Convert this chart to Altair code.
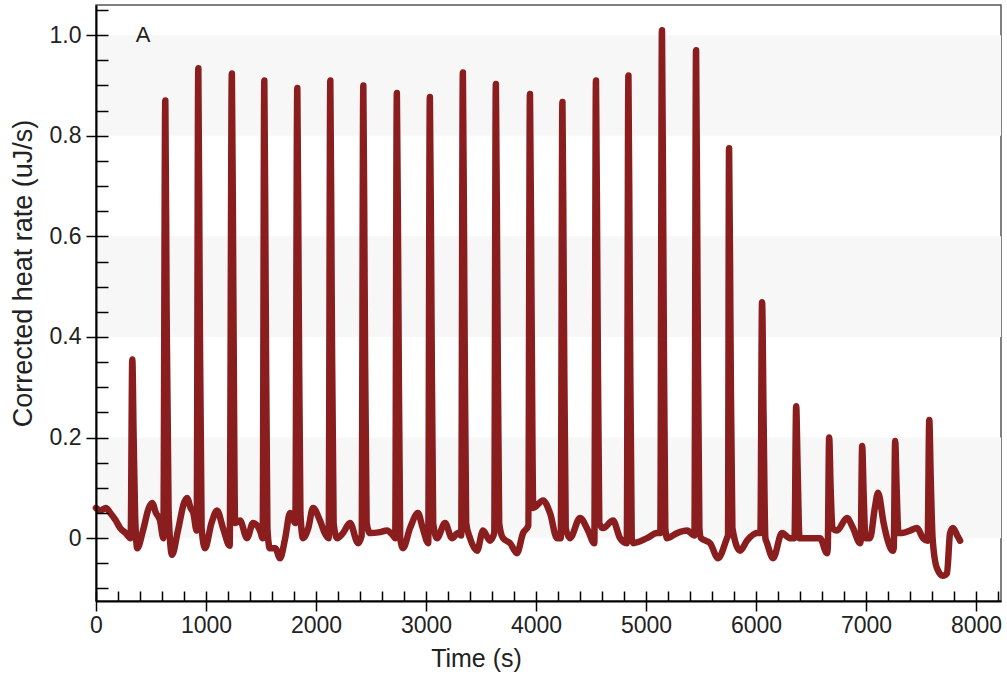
import altair as alt
import pandas as pd

# ---- data ----
time_s = [
    0, 40, 90, 130, 180, 220, 270, 315, 330, 342, 355, 375,
    427, 480, 510, 545, 582, 612, 630, 642, 660, 691,
    745, 800, 827, 860, 885, 915, 930, 942, 960, 991,
    1050, 1100, 1155, 1215, 1235, 1248, 1265,
    1309, 1373, 1427, 1491, 1515, 1530, 1542, 1558, 1580,
    1630, 1673, 1720, 1764, 1812, 1830, 1842, 1858, 1882,
    1930, 1973, 2036, 2080, 2115, 2130, 2142, 2160, 2191,
    2245, 2309, 2382, 2415, 2430, 2442, 2460, 2491,
    2582, 2645, 2700, 2720, 2735, 2748, 2765, 2791,
    2855, 2927, 2970, 3020, 3035, 3048, 3065, 3100,
    3173, 3236, 3291, 3320, 3335, 3348, 3365, 3400,
    3464, 3518, 3582, 3620, 3635, 3648, 3665, 3700,
    3764, 3827, 3882, 3930, 3945, 3958, 3975,
    4064, 4127, 4191, 4225, 4240, 4252, 4270, 4309,
    4400, 4473, 4530, 4545, 4558, 4575, 4609,
    4700, 4764, 4825, 4840, 4852, 4870, 4882,
    5009, 5100, 5130, 5145, 5158, 5175, 5191,
    5282, 5373, 5440, 5455, 5468, 5485, 5500,
    5582, 5655, 5736, 5745, 5755, 5768, 5785,
    5855, 5918, 6009, 6040, 6055, 6068, 6085, 6100,
    6155, 6236, 6309, 6350, 6365, 6378, 6395,
    6491, 6582, 6645, 6652, 6665, 6678, 6695,
    6736, 6827, 6882, 6945, 6952, 6965, 6978, 6995,
    7036, 7080, 7109, 7160, 7191, 7245, 7252, 7265, 7278, 7295,
    7327, 7400, 7464, 7518, 7560, 7575, 7588, 7605,
    7645, 7700, 7736, 7764, 7791, 7830, 7855,
]
heat_rate = [
    0.06, 0.055, 0.06, 0.05, 0.035, 0.02, 0.01, 0.0, 0.355, 0.2, 0.05, -0.02,
    0.015, 0.06, 0.07, 0.05, 0.035, 0.0, 0.87, 0.45, 0.05, -0.033,
    0.015, 0.07, 0.08, 0.06, 0.05, 0.015, 0.934, 0.5, 0.02, -0.02,
    0.03, 0.055, 0.02, -0.015, 0.924, 0.5, 0.03,
    0.035, 0.0, 0.03, 0.015, 0.0, 0.91, 0.5, 0.02, -0.02,
    -0.02, -0.04, 0.0, 0.05, 0.03, 0.895, 0.5, 0.05, 0.0,
    0.02, 0.06, 0.035, 0.01, 0.0, 0.91, 0.5, 0.03, 0.0,
    0.01, 0.03, -0.01, 0.005, 0.9, 0.5, 0.03, 0.01,
    0.012, 0.015, 0.005, 0.0, 0.885, 0.5, 0.0, -0.02,
    0.02, 0.05, 0.02, -0.01, 0.877, 0.5, 0.03, 0.0,
    0.03, 0.0, 0.01, 0.005, 0.926, 0.5, 0.03, 0.0,
    -0.025, 0.015, -0.005, 0.01, 0.903, 0.5, 0.03, 0.0,
    -0.01, -0.03, 0.01, 0.025, 0.883, 0.5, 0.06,
    0.075, 0.05, 0.0, 0.0, 0.867, 0.5, 0.02, 0.0,
    0.04, 0.015, -0.01, 0.91, 0.5, 0.03, 0.02,
    0.035, 0.0, -0.01, 0.92, 0.5, 0.0, -0.01,
    0.0, 0.01, 0.01, 1.01, 0.55, 0.02, 0.0,
    0.01, 0.015, 0.005, 0.97, 0.5, 0.02, 0.0,
    -0.01, -0.04, 0.0, 0.005, 0.775, 0.4, 0.02,
    -0.025, -0.005, 0.01, 0.01, 0.469, 0.25, 0.0, -0.01,
    -0.04, 0.01, 0.0, 0.0, 0.262, 0.14, 0.0,
    0.0, 0.0, -0.03, -0.02, 0.2, 0.1, 0.02,
    0.015, 0.04, 0.02, -0.01, -0.005, 0.183, 0.09, 0.0,
    0.0, 0.06, 0.09, 0.03, 0.0, -0.025, -0.02, 0.193, 0.1, 0.01,
    0.01, 0.015, 0.02, 0.0, -0.005, 0.235, 0.12, 0.0,
    -0.06, -0.075, -0.07, 0.01, 0.02, 0.005, -0.005,
]

band_low = [0.0, 0.4, 0.8]
band_high = [0.2, 0.6, 1.0]

y_major = [0, 0.2, 0.4, 0.6, 0.8, 1.0]
y_minor = [-0.1, -0.05, 0, 0.05, 0.1, 0.15, 0.2, 0.25, 0.3, 0.35, 0.4, 0.45,
           0.5, 0.55, 0.6, 0.65, 0.7, 0.75, 0.8, 0.85, 0.9, 0.95, 1.0, 1.05]
x_major = [0, 1000, 2000, 3000, 4000, 5000, 6000, 7000, 8000]
x_minor = list(range(0, 8201, 200))

panel_label = ["A"]
panel_label_x = [427]
panel_label_y = [1.0]

# ---- chart ----
W, H = 905, 596
FONT = "Liberation Sans"
LINE_COLOR = "#8a1e1e"

trace = pd.DataFrame({"t": time_s, "v": heat_rate})
bands = pd.DataFrame({"lo": band_low, "hi": band_high})
label_df = pd.DataFrame({"t": panel_label_x, "v": panel_label_y, "s": panel_label})

xscale = alt.Scale(domain=[0, 8227], nice=False, zero=False)
yscale = alt.Scale(domain=[-0.125, 1.06], nice=False, zero=False)

band_layer = alt.Chart(bands).mark_rect(color="#f7f7f7").encode(
    x=alt.value(0), x2=alt.value(W),
    y=alt.Y("lo:Q", scale=yscale, axis=None),
    y2="hi:Q",
)

x_axis = alt.Axis(
    orient="bottom", title="Time (s)", values=x_major, format="d",
    tickSize=10, tickColor="black", tickWidth=1.5,
    domainColor="black", domainWidth=2, grid=False, labelFlush=False,
    labelFont=FONT, labelFontSize=23, labelColor="#222", labelPadding=3,
    titleFont=FONT, titleFontSize=25, titleFontWeight="normal", titleColor="#222",
    titlePadding=9, titleX=380, zindex=2,
)
y_axis = alt.Axis(
    orient="left", title="Corrected heat rate (uJ/s)", values=y_major,
    labelExpr="datum.value == 0 ? '0' : format(datum.value, '.1f')",
    tickSize=10, tickColor="black", tickWidth=1.5,
    domainColor="black", domainWidth=2, grid=False, labelFlush=False,
    labelFont=FONT, labelFontSize=23, labelColor="#222", labelPadding=5,
    titleFont=FONT, titleFontSize=27, titleFontWeight="normal", titleColor="#222",
    titlePadding=12, titleY=268, zindex=2,
)

line_layer = alt.Chart(trace).mark_line(
    color=LINE_COLOR, strokeWidth=6.5, strokeJoin="round", strokeCap="round",
    interpolate="monotone",
).encode(
    x=alt.X("t:Q", scale=xscale, axis=x_axis),
    y=alt.Y("v:Q", scale=yscale, axis=y_axis),
)

inner_ticks = alt.Chart(trace).mark_line(strokeOpacity=0).encode(
    x=alt.X("t:Q", scale=xscale, axis=alt.Axis(
        orient="bottom", offset=-10, values=x_minor, tickSize=10,
        tickColor="black", tickWidth=1.5, labels=False, domain=False,
        grid=False, title=None, zindex=2)),
    y=alt.Y("v:Q", scale=yscale, axis=alt.Axis(
        orient="left", offset=-12, values=y_minor, tickSize=12,
        tickColor="black", tickWidth=1.5, labels=False, domain=False,
        grid=False, title=None, zindex=2)),
)

text_layer = alt.Chart(label_df).mark_text(
    font=FONT, fontSize=22, color="#222", align="center", baseline="middle",
).encode(
    x=alt.X("t:Q", scale=xscale, axis=None),
    y=alt.Y("v:Q", scale=yscale, axis=None),
    text="s:N",
)

chart = alt.layer(band_layer, inner_ticks, line_layer, text_layer).resolve_axis(
    x="independent", y="independent"
).properties(
    width=W, height=H,
    autosize=alt.AutoSizeParams(type="none"),
    padding={"left": 96, "top": 5, "right": 6, "bottom": 89},
    background="white",
).configure_view(stroke="#555", strokeWidth=1.5)

chart.save("out.html", embed_options={"renderer": "svg", "actions": False})
